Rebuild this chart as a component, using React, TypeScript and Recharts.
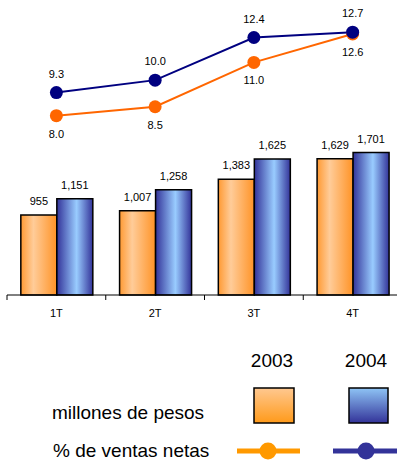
import React from "react";
import { ComposedChart, Bar, Line, XAxis, YAxis, LabelList } from "recharts";

const categories = ["1T", "2T", "3T", "4T"];
const sales2003 = [955, 1007, 1383, 1629];
const sales2004 = [1151, 1258, 1625, 1701];
const pct2003 = [8.0, 8.5, 11.0, 12.6];
const pct2004 = [9.3, 10.0, 12.4, 12.7];
const seriesNames = ["2003", "2004"];
const rowLabels = ["millones de pesos", "% de ventas netas"];

const data = categories.map((c, i) => ({
  cat: c,
  s2003: sales2003[i],
  s2004: sales2004[i],
  p2003: pct2003[i],
  p2004: pct2004[i],
}));

const CHART_W = 402;
const CHART_H = 330;
const M_LEFT = 7;
const M_RIGHT = 0;
const BAND = (CHART_W - M_LEFT - M_RIGHT) / categories.length;
const FONT = "'Liberation Sans', Arial, sans-serif";

const fmt = (v: number) => v.toLocaleString("en-US");

const AxisTick = (props: any) => {
  const { x, y, payload } = props;
  const left = x - BAND / 2;
  return (
    <g>
      <line x1={left} y1={y - 8} x2={left} y2={y - 3} stroke="#000" strokeWidth={1} />
      <text x={x} y={y + 14} textAnchor="middle" fontSize={11} fill="#000" fontFamily={FONT}>
        {payload.value}
      </text>
    </g>
  );
};

const pctLabel = (above: boolean) => (props: any) => {
  const { x, y, value } = props;
  return (
    <text
      x={x}
      y={above ? y - 15 : y + 22}
      textAnchor="middle"
      fontSize={11}
      fill="#000"
      fontFamily={FONT}
    >
      {Number(value).toFixed(1)}
    </text>
  );
};

const barLabel = (props: any) => {
  const { x, y, width, value } = props;
  return (
    <text x={x + width / 2} y={y - 10} textAnchor="middle" fontSize={11} fill="#000" fontFamily={FONT}>
      {fmt(value)}
    </text>
  );
};

export default function App() {
  return (
    <div style={{ position: "absolute", left: 0, top: 0, width: 397, height: 461, overflow: "hidden", background: "#fff" }}>
      <ComposedChart
        width={CHART_W}
        height={CHART_H}
        data={data}
        margin={{ top: 2, right: M_RIGHT, bottom: 0, left: M_LEFT }}
        barCategoryGap="14%"
        barGap={0}
      >
        <defs>
          <linearGradient id="gOrange" x1="0" y1="0" x2="1" y2="0">
            <stop offset="0%" stopColor="#FF9A33" />
            <stop offset="35%" stopColor="#FFCC99" />
            <stop offset="100%" stopColor="#FF9326" />
          </linearGradient>
          <linearGradient id="gBlue" x1="0" y1="0" x2="1" y2="0">
            <stop offset="0%" stopColor="#333399" />
            <stop offset="55%" stopColor="#99CCFF" />
            <stop offset="100%" stopColor="#333399" />
          </linearGradient>
        </defs>
        <XAxis
          dataKey="cat"
          height={35}
          axisLine={{ stroke: "#000", strokeWidth: 1 }}
          tickLine={false}
          tick={<AxisTick />}
          interval={0}
        />
        <YAxis yAxisId="bar" hide domain={[0, 3500]} />
        <YAxis yAxisId="pct" hide domain={[-2.1, 14.4]} orientation="right" />
        <Bar yAxisId="bar" dataKey="s2003" fill="url(#gOrange)" stroke="#000" strokeWidth={1.5} isAnimationActive={false}>
          <LabelList dataKey="s2003" content={barLabel} />
        </Bar>
        <Bar yAxisId="bar" dataKey="s2004" fill="url(#gBlue)" stroke="#000" strokeWidth={1.5} isAnimationActive={false}>
          <LabelList dataKey="s2004" content={barLabel} />
        </Bar>
        <Line
          yAxisId="pct"
          dataKey="p2003"
          stroke="#FF6600"
          strokeWidth={2}
          dot={{ r: 6.5, fill: "#FF6600", stroke: "#FF6600", strokeWidth: 0 }}
          isAnimationActive={false}
        >
          <LabelList dataKey="p2003" content={pctLabel(false)} />
        </Line>
        <Line
          yAxisId="pct"
          dataKey="p2004"
          stroke="#000080"
          strokeWidth={2}
          dot={{ r: 6.5, fill: "#000080", stroke: "#000080", strokeWidth: 0 }}
          isAnimationActive={false}
        >
          <LabelList dataKey="p2004" content={pctLabel(true)} />
        </Line>
      </ComposedChart>
      <svg width={397} height={131} style={{ position: "absolute", left: 0, top: 330 }}>
        <defs>
          <linearGradient id="lgOrange" x1="0" y1="0" x2="0" y2="1">
            <stop offset="0%" stopColor="#FFC890" />
            <stop offset="100%" stopColor="#FF9A1A" />
          </linearGradient>
          <linearGradient id="lgBlue" x1="0" y1="0" x2="0" y2="1">
            <stop offset="0%" stopColor="#8EC4F5" />
            <stop offset="100%" stopColor="#333399" />
          </linearGradient>
        </defs>
        <text x={272} y={37} textAnchor="middle" fontSize={19} fontFamily={FONT} fill="#000">{seriesNames[0]}</text>
        <text x={366} y={37} textAnchor="middle" fontSize={19} fontFamily={FONT} fill="#000">{seriesNames[1]}</text>
        <text x={52} y={89} fontSize={19} fontFamily={FONT} fill="#000">{rowLabels[0]}</text>
        <text x={53} y={127} fontSize={19} fontFamily={FONT} fill="#000">{rowLabels[1]}</text>
        <rect x={254} y={58} width={40} height={35} fill="url(#lgOrange)" stroke="#000" strokeWidth={1.5} />
        <rect x={349} y={58} width={39} height={35} fill="url(#lgBlue)" stroke="#000" strokeWidth={1.5} />
        <line x1={237} y1={121} x2={300} y2={121} stroke="#FF9900" strokeWidth={5} />
        <circle cx={268} cy={121} r={8.5} fill="#FF9900" />
        <line x1={333} y1={121} x2={397} y2={121} stroke="#333399" strokeWidth={5} />
        <circle cx={366} cy={121} r={8.5} fill="#333399" />
      </svg>
    </div>
  );
}
